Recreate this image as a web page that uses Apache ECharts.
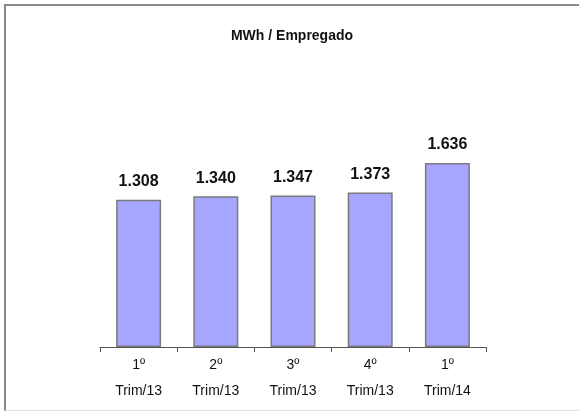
<!DOCTYPE html>
<html>
<head>
<meta charset="utf-8">
<script src="https://cdn.jsdelivr.net/npm/echarts@6/dist/echarts.min.js"></script>
<style>
  html, body { margin: 0; padding: 0; background: #fff; }
  #frame {
    position: absolute; left: 4px; top: 4px; width: 580px; height: 404px;
    border-top: 2px solid #8a8a8a; border-left: 2px solid #8a8a8a;
    border-bottom: 1px solid #e2e2e2;
  }
  #chart { position: absolute; left: 0; top: 0; width: 579px; height: 411px; }
</style>
</head>
<body>
<div id="frame"></div>
<div id="chart"></div>
<script>
  // MWh por empregado, por trimestre
  const quarters = ["1º\nTrim/13", "2º\nTrim/13", "3º\nTrim/13", "4º\nTrim/13", "1º\nTrim/14"];
  const mwhPerEmployee = [1.308, 1.340, 1.347, 1.373, 1.636];

  let myChart = echarts.init(document.getElementById("chart"));
  let option = {
    animation: false,
    title: {
      text: "MWh / Empregado",
      left: 287,
      textAlign: "center",
      top: 24,
      textStyle: {
        fontFamily: "Liberation Sans Narrow, Arial Narrow, sans-serif",
        fontSize: 14,
        fontWeight: "bold",
        color: "#111"
      }
    },
    grid: { left: 100, right: 93, top: 122, bottom: 64 },
    xAxis: {
      type: "category",
      data: quarters,
      axisLine: { lineStyle: { color: "#555", width: 1 } },
      axisTick: { show: true, length: 5, lineStyle: { color: "#555" } },
      axisLabel: {
        interval: 0,
        margin: 5,
        lineHeight: 26,
        fontFamily: "Liberation Sans Narrow, Arial Narrow, sans-serif",
        fontSize: 14,
        color: "#111"
      }
    },
    yAxis: {
      type: "value",
      min: 0,
      max: 2,
      show: false,
      splitLine: { show: false }
    },
    series: [{
      type: "bar",
      data: mwhPerEmployee,
      barWidth: 45,
      itemStyle: { color: "#a6a6ff", borderColor: "#7a7a7a", borderWidth: 1.5 },
      label: {
        show: true,
        position: "top",
        distance: 10,
        formatter: p => p.value.toFixed(3),
        fontFamily: "Liberation Sans Narrow, Arial Narrow, sans-serif",
        fontSize: 16,
        fontWeight: "bold",
        color: "#111"
      }
    }]
  };
  myChart.setOption(option);
</script>
</body>
</html>
